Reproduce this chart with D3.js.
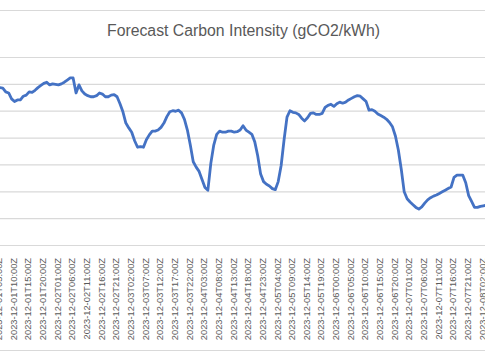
<!DOCTYPE html>
<html><head><meta charset="utf-8">
<script src="https://cdn.jsdelivr.net/npm/d3@7"></script>
<style>html,body{margin:0;padding:0;background:#fff;overflow:hidden}</style>
</head><body>
<svg id="chart" width="485" height="360"></svg>
<script>
const chartTitle = "Forecast Carbon Intensity (gCO2/kWh)";
// hourly readings (half-hour slots at :30), first one at this time
const firstTime = "2023-12-01T04:30Z";
const intensity = [
293,293,292,285,283,272,267,270,270,277,279,285,284,288,293,297,301,303,298,300,
299,298,300,303,307,311,311,283,298,287,281,278,276,276,278,283,281,276,276,279,
280,276,263,248,227,218,210,194,182,183,182,196,205,212,212,214,219,227,239,248,
250,249,251,246,234,214,186,155,145,137,122,107,102,152,186,206,212,210,210,212,
212,210,211,214,222,214,210,206,192,166,132,118,113,110,105,103,118,148,196,238,
250,247,246,243,236,231,237,245,246,243,243,245,256,260,262,258,263,266,264,266,
270,273,276,278,277,272,267,251,252,249,244,241,238,234,228,220,203,177,141,99,
86,80,75,70,67,71,78,84,88,91,93,96,99,102,105,108,126,130,130,130,
116,92,81,70,70,72,73,74
];
const tickLabels = [
"2023-12-01T05:00Z","2023-12-01T10:00Z","2023-12-01T15:00Z","2023-12-01T20:00Z",
"2023-12-02T01:00Z","2023-12-02T06:00Z","2023-12-02T11:00Z","2023-12-02T16:00Z","2023-12-02T21:00Z",
"2023-12-03T02:00Z","2023-12-03T07:00Z","2023-12-03T12:00Z","2023-12-03T17:00Z","2023-12-03T22:00Z",
"2023-12-04T03:00Z","2023-12-04T08:00Z","2023-12-04T13:00Z","2023-12-04T18:00Z","2023-12-04T23:00Z",
"2023-12-05T04:00Z","2023-12-05T09:00Z","2023-12-05T14:00Z","2023-12-05T19:00Z",
"2023-12-06T00:00Z","2023-12-06T05:00Z","2023-12-06T10:00Z","2023-12-06T15:00Z","2023-12-06T20:00Z",
"2023-12-07T01:00Z","2023-12-07T06:00Z","2023-12-07T11:00Z","2023-12-07T16:00Z","2023-12-07T21:00Z",
"2023-12-08T02:00Z"
];
const yTicks = [0,50,100,150,200,250,300,350];

const W = 485, H = 360;
const svg = d3.select("#chart");
const font = "'Liberation Sans', Arial, sans-serif";
const gray = "#d9d9d9", textGray = "#595959";

const t0 = new Date(firstTime);
const data = intensity.map((v, i) => ({t: d3.utcHour.offset(t0, i), v}));
const tickDates = tickLabels.map(s => new Date(s));

const x = d3.scaleUtc()
  .domain([tickDates[0], tickDates[tickDates.length - 1]])
  .range([-1.6, 481.85]);
const y = d3.scaleLinear().domain([0, 350]).range([245, 57]);

// chart area border (left/right edges fall outside the crop)
svg.append("rect")
  .attr("x", -20).attr("y", 10.5).attr("width", W + 40).attr("height", 340)
  .attr("fill", "none").attr("stroke", gray).attr("stroke-width", 1);

// title
svg.append("text")
  .attr("x", 243.5).attr("y", 36)
  .attr("text-anchor", "middle")
  .style("font-family", font).style("font-size", "15.8px")
  .attr("fill", textGray)
  .text(chartTitle);

// horizontal gridlines from the y scale (value labels are outside the cropped view)
const gy = svg.append("g").attr("transform", "translate(0,0)")
  .call(d3.axisLeft(y).tickValues(yTicks).tickSize(-W - 10).tickSizeOuter(0));
gy.select(".domain").remove();
gy.selectAll(".tick line").attr("stroke", gray).attr("stroke-width", 1.2);
gy.selectAll(".tick text").remove();

// x axis labels
const gx = svg.append("g").attr("transform", `translate(0,${y(0)})`)
  .call(d3.axisBottom(x).tickValues(tickDates).tickFormat((d, i) => tickLabels[i]).tickSize(0).tickSizeOuter(0));
gx.select(".domain").remove();
gx.selectAll(".tick text")
  .attr("transform", "rotate(-90)")
  .attr("x", -13).attr("y", 0).attr("dy", "0.35em")
  .attr("text-anchor", "end")
  .style("font-family", font).style("font-size", "9.3px")
  .attr("fill", textGray);

// line
svg.append("path")
  .datum(data)
  .attr("fill", "none")
  .attr("stroke", "#4472C4")
  .attr("stroke-width", 2.8)
  .attr("stroke-linejoin", "round")
  .attr("stroke-linecap", "round")
  .attr("d", d3.line().x(d => x(d.t)).y(d => y(d.v)));
</script>
</body></html>
